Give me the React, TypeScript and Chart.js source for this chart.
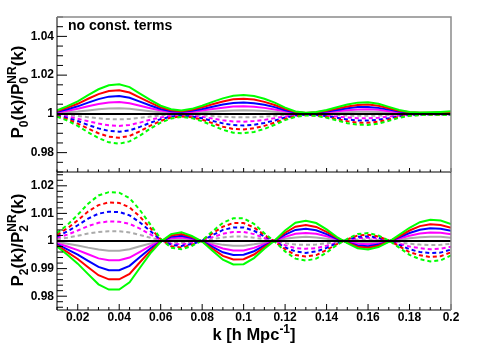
import React, { useEffect, useRef } from 'react';
import { Chart, registerables } from 'chart.js';

Chart.register(...registerables);

// ---------------- data ----------------
const kValues = [
  0.010, 0.015, 0.020, 0.025, 0.030, 0.035, 0.040, 0.045, 0.050, 0.055,
  0.060, 0.065, 0.070, 0.075, 0.080, 0.085, 0.090, 0.095, 0.100, 0.105,
  0.110, 0.115, 0.120, 0.125, 0.130, 0.135, 0.140, 0.145, 0.150, 0.155,
  0.160, 0.165, 0.170, 0.175, 0.180, 0.185, 0.190, 0.195, 0.200,
];

// Upper panel: P0(k)/P0NR(k), solid curves
const p0SolidGreen = [1.0018,1.0040,1.0065,1.0097,1.0127,1.0148,1.0153,1.0138,1.0105,1.0072,1.0042,1.0024,1.0018,1.0026,1.0042,1.0062,1.0080,1.0094,1.0098,1.0092,1.0078,1.0058,1.0032,1.0012,1.0006,1.0010,1.0020,1.0034,1.0048,1.0058,1.0060,1.0052,1.0036,1.0020,1.0010,1.0007,1.0008,1.0010,1.0013];
const p0SolidRed = [1.0014,1.0032,1.0052,1.0078,1.0102,1.0118,1.0122,1.0110,1.0084,1.0058,1.0034,1.0019,1.0014,1.0021,1.0034,1.0050,1.0064,1.0075,1.0078,1.0074,1.0062,1.0046,1.0026,1.0010,1.0005,1.0008,1.0016,1.0027,1.0038,1.0046,1.0048,1.0042,1.0029,1.0016,1.0008,1.0006,1.0006,1.0008,1.0010];
const p0SolidBlue = [1.0011,1.0024,1.0039,1.0058,1.0076,1.0089,1.0092,1.0083,1.0063,1.0043,1.0025,1.0014,1.0011,1.0016,1.0025,1.0037,1.0048,1.0056,1.0059,1.0055,1.0047,1.0035,1.0019,1.0007,1.0004,1.0006,1.0012,1.0020,1.0029,1.0035,1.0036,1.0031,1.0022,1.0012,1.0006,1.0004,1.0005,1.0006,1.0008];
const p0SolidMagenta = [1.0007,1.0016,1.0026,1.0039,1.0051,1.0059,1.0061,1.0055,1.0042,1.0029,1.0017,1.0010,1.0007,1.0010,1.0017,1.0025,1.0032,1.0038,1.0039,1.0037,1.0031,1.0023,1.0013,1.0005,1.0002,1.0004,1.0008,1.0014,1.0019,1.0023,1.0024,1.0021,1.0014,1.0008,1.0004,1.0003,1.0003,1.0004,1.0005];
const p0SolidGray = [1.0003,1.0008,1.0012,1.0018,1.0024,1.0028,1.0029,1.0026,1.0020,1.0014,1.0008,1.0005,1.0003,1.0005,1.0008,1.0012,1.0015,1.0018,1.0019,1.0017,1.0015,1.0011,1.0006,1.0002,1.0001,1.0002,1.0004,1.0006,1.0009,1.0011,1.0011,1.0010,1.0007,1.0004,1.0002,1.0001,1.0002,1.0002,1.0002];

// Upper panel: dashed curves
const p0DashedGreen = [0.9986,0.9965,0.9938,0.9905,0.9875,0.9853,0.9846,0.9858,0.9888,0.9924,0.9955,0.9976,0.9984,0.9978,0.9962,0.9940,0.9918,0.9903,0.9900,0.9907,0.9922,0.9944,0.9968,0.9985,0.9992,0.9990,0.9980,0.9966,0.9952,0.9944,0.9943,0.9950,0.9964,0.9980,0.9990,0.9994,0.9995,0.9995,0.9994];
const p0DashedRed = [0.9989,0.9972,0.9950,0.9924,0.9900,0.9882,0.9877,0.9886,0.9910,0.9939,0.9964,0.9981,0.9987,0.9982,0.9970,0.9952,0.9934,0.9922,0.9920,0.9926,0.9938,0.9955,0.9974,0.9988,0.9994,0.9992,0.9984,0.9973,0.9962,0.9955,0.9954,0.9960,0.9971,0.9984,0.9992,0.9995,0.9996,0.9996,0.9995];
const p0DashedBlue = [0.9992,0.9979,0.9963,0.9943,0.9925,0.9912,0.9908,0.9915,0.9933,0.9954,0.9973,0.9986,0.9990,0.9987,0.9977,0.9964,0.9951,0.9942,0.9940,0.9944,0.9953,0.9966,0.9981,0.9991,0.9995,0.9994,0.9988,0.9980,0.9971,0.9966,0.9966,0.9970,0.9978,0.9988,0.9994,0.9996,0.9997,0.9997,0.9996];
const p0DashedMagenta = [0.9994,0.9986,0.9975,0.9962,0.9950,0.9941,0.9938,0.9943,0.9955,0.9970,0.9982,0.9990,0.9994,0.9991,0.9985,0.9976,0.9967,0.9961,0.9960,0.9963,0.9969,0.9978,0.9987,0.9994,0.9997,0.9996,0.9992,0.9986,0.9981,0.9978,0.9977,0.9980,0.9986,0.9992,0.9996,0.9998,0.9998,0.9998,0.9998];
const p0DashedGray = [0.9997,0.9994,0.9989,0.9983,0.9977,0.9973,0.9972,0.9974,0.9980,0.9986,0.9992,0.9996,0.9997,0.9996,0.9993,0.9989,0.9985,0.9983,0.9982,0.9983,0.9986,0.9990,0.9994,0.9997,0.9999,0.9998,0.9996,0.9994,0.9991,0.9990,0.9990,0.9991,0.9994,0.9996,0.9998,0.9999,0.9999,0.9999,0.9999];

// Lower panel: P2(k)/P2NR(k), solid curves
const p2SolidGreen = [0.9980,0.9950,0.9918,0.9880,0.9843,0.9824,0.9824,0.9850,0.9903,0.9955,0.9997,1.0025,1.0032,1.0018,0.9998,0.9965,0.9932,0.9915,0.9916,0.9938,0.9972,1.0002,1.0038,1.0066,1.0073,1.0065,1.0042,1.0014,0.9992,0.9974,0.9969,0.9978,0.9997,1.0022,1.0048,1.0068,1.0077,1.0074,1.0061];
const p2SolidRed = [0.9984,0.9960,0.9935,0.9905,0.9876,0.9861,0.9861,0.9881,0.9923,0.9964,0.9998,1.0020,1.0025,1.0014,0.9998,0.9972,0.9946,0.9933,0.9934,0.9951,0.9978,1.0002,1.0030,1.0052,1.0058,1.0051,1.0033,1.0011,0.9994,0.9979,0.9976,0.9983,0.9998,1.0017,1.0038,1.0054,1.0061,1.0058,1.0048];
const p2SolidBlue = [0.9988,0.9970,0.9951,0.9928,0.9906,0.9894,0.9894,0.9910,0.9942,0.9973,0.9998,1.0015,1.0019,1.0011,0.9999,0.9979,0.9959,0.9949,0.9950,0.9963,0.9983,1.0001,1.0023,1.0040,1.0044,1.0039,1.0025,1.0008,0.9995,0.9984,0.9981,0.9987,0.9998,1.0013,1.0029,1.0041,1.0046,1.0044,1.0037];
const p2SolidMagenta = [0.9992,0.9980,0.9967,0.9952,0.9937,0.9930,0.9930,0.9940,0.9961,0.9982,0.9999,1.0010,1.0013,1.0007,0.9999,0.9986,0.9973,0.9966,0.9966,0.9975,0.9989,1.0001,1.0015,1.0026,1.0029,1.0026,1.0017,1.0006,0.9997,0.9990,0.9988,0.9991,0.9999,1.0009,1.0019,1.0027,1.0031,1.0030,1.0024];
const p2SolidGray = [0.9996,0.9990,0.9984,0.9976,0.9969,0.9965,0.9965,0.9970,0.9981,0.9991,0.9999,1.0005,1.0006,1.0004,1.0000,0.9993,0.9986,0.9983,0.9983,0.9988,0.9994,1.0000,1.0008,1.0013,1.0015,1.0013,1.0008,1.0003,0.9998,0.9995,0.9994,0.9996,0.9999,1.0004,1.0010,1.0014,1.0015,1.0015,1.0012];

// Lower panel: dashed curves
const p2DashedGreen = [1.0029,1.0058,1.0095,1.0135,1.0165,1.0177,1.0175,1.0155,1.0112,1.0060,1.0008,0.9976,0.9970,0.9982,1.0002,1.0035,1.0066,1.0082,1.0082,1.0062,1.0028,0.9998,0.9962,0.9936,0.9929,0.9936,0.9958,0.9986,1.0008,1.0025,1.0029,1.0020,1.0002,0.9976,0.9950,0.9934,0.9926,0.9930,0.9948];
const p2DashedRed = [1.0023,1.0046,1.0075,1.0107,1.0130,1.0140,1.0138,1.0122,1.0088,1.0047,1.0006,0.9981,0.9976,0.9986,1.0002,1.0028,1.0052,1.0065,1.0065,1.0049,1.0022,0.9998,0.9970,0.9949,0.9944,0.9949,0.9967,0.9989,1.0006,1.0020,1.0023,1.0016,1.0002,0.9981,0.9960,0.9948,0.9942,0.9945,0.9959];
const p2DashedBlue = [1.0017,1.0035,1.0057,1.0081,1.0099,1.0106,1.0105,1.0093,1.0067,1.0036,1.0005,0.9986,0.9982,0.9989,1.0001,1.0021,1.0040,1.0049,1.0049,1.0037,1.0017,0.9999,0.9977,0.9962,0.9957,0.9962,0.9975,0.9992,1.0005,1.0015,1.0017,1.0012,1.0001,0.9986,0.9970,0.9960,0.9956,0.9958,0.9969];
const p2DashedMagenta = [1.0012,1.0023,1.0038,1.0054,1.0066,1.0071,1.0070,1.0062,1.0045,1.0024,1.0003,0.9990,0.9988,0.9993,1.0001,1.0014,1.0026,1.0033,1.0033,1.0025,1.0011,0.9999,0.9985,0.9974,0.9972,0.9974,0.9983,0.9994,1.0003,1.0010,1.0012,1.0008,1.0001,0.9990,0.9980,0.9974,0.9970,0.9972,0.9979];
const p2DashedGray = [1.0006,1.0012,1.0019,1.0027,1.0033,1.0035,1.0035,1.0031,1.0022,1.0012,1.0002,0.9995,0.9994,0.9996,1.0000,1.0007,1.0013,1.0016,1.0016,1.0012,1.0006,1.0000,0.9992,0.9987,0.9986,0.9987,0.9992,0.9997,1.0002,1.0005,1.0006,1.0004,1.0000,0.9995,0.9990,0.9987,0.9985,0.9986,0.9990];

// reference line at ratio 1
const unityK = [0.01, 0.2];
const unityLine = [1, 1];

// axes
const X_MIN = 0.01;
const X_MAX = 0.2;
const xTickValues = [0.02, 0.04, 0.06, 0.08, 0.1, 0.12, 0.14, 0.16, 0.18, 0.2];
const xTickLabels = ['0.02', '0.04', '0.06', '0.08', '0.1', '0.12', '0.14', '0.16', '0.18', '0.2'];
const p0Min = 0.97;
const p0Max = 1.05;
const p0TickValues = [0.98, 1, 1.02, 1.04];
const p0TickLabels = ['0.98', '1', '1.02', '1.04'];
const p2Min = 0.975;
const p2Max = 1.025;
const p2TickValues = [0.98, 0.99, 1, 1.01, 1.02];
const p2TickLabels = ['0.98', '0.99', '1', '1.01', '1.02'];

const annotationText = 'no const. terms';

// ---------------- styling ----------------
const FAMILY = '"Liberation Sans", Arial, Helvetica, sans-serif';
const COLORS = ['#00ff00', '#ff0000', '#0000ff', '#ff00ff', '#aaaaaa'];
const DASH = [4, 3];

type Seg = { t: string; sub?: string; sup?: string };

const p0Title: Seg[] = [{ t: 'P', sub: '0' }, { t: '(k)/P', sub: '0', sup: 'NR' }, { t: '(k)' }];
const p2Title: Seg[] = [{ t: 'P', sub: '2' }, { t: '(k)/P', sub: '2', sup: 'NR' }, { t: '(k)' }];
const xTitle: Seg[] = [{ t: 'k [h Mpc', sup: '-1' }, { t: ']' }];

function drawRich(ctx: CanvasRenderingContext2D, segs: Seg[], size: number, x: number, y: number, angle: number) {
  const big = `bold ${size}px ${FAMILY}`;
  const small = `bold ${Math.round(size * 0.7)}px ${FAMILY}`;
  const widths = segs.map((s) => {
    ctx.font = big;
    const wt = ctx.measureText(s.t).width;
    ctx.font = small;
    const ws = Math.max(s.sub ? ctx.measureText(s.sub).width : 0, s.sup ? ctx.measureText(s.sup).width : 0);
    return { wt, ws };
  });
  const total = widths.reduce((a, w) => a + w.wt + w.ws, 0);
  ctx.save();
  ctx.translate(x, y);
  ctx.rotate(angle);
  ctx.fillStyle = '#000';
  ctx.textBaseline = 'alphabetic';
  ctx.textAlign = 'left';
  let cx = -total / 2;
  segs.forEach((s, i) => {
    ctx.font = big;
    ctx.fillText(s.t, cx, 0);
    cx += widths[i].wt;
    ctx.font = small;
    if (s.sub) ctx.fillText(s.sub, cx, size * 0.28);
    if (s.sup) ctx.fillText(s.sup, cx, -size * 0.42);
    cx += widths[i].ws;
  });
  ctx.restore();
}

function isMultiple(v: number, step: number) {
  const r = v / step;
  return Math.abs(r - Math.round(r)) < 1e-6;
}

type FrameCfg = {
  yStep: number;
  yMajor: number;
  yMajorLen: number;
  yMinorLen: number;
  xMajorLen: number;
  xMinorLen: number;
  drawTop: boolean;
};

function drawFrame(chart: Chart, cfg: FrameCfg) {
  const { ctx, chartArea: a } = chart;
  const xs = chart.scales.x;
  const ys = chart.scales.y;
  ctx.save();
  // left axis ticks
  ctx.strokeStyle = '#000';
  ctx.lineWidth = 1;
  ctx.beginPath();
  const y0 = Math.ceil((ys.min as number) / cfg.yStep - 1e-6);
  const y1 = Math.floor((ys.max as number) / cfg.yStep + 1e-6);
  for (let i = y0; i <= y1; i++) {
    const v = i * cfg.yStep;
    const py = ys.getPixelForValue(v);
    const len = isMultiple(v, cfg.yMajor) ? cfg.yMajorLen : cfg.yMinorLen;
    ctx.moveTo(a.left, py);
    ctx.lineTo(a.left + len, py);
  }
  // bottom axis ticks
  for (let i = 2; i <= 40; i++) {
    const v = i * 0.005;
    const px = xs.getPixelForValue(v);
    const len = isMultiple(v, 0.02) ? cfg.xMajorLen : cfg.xMinorLen;
    ctx.moveTo(px, a.bottom);
    ctx.lineTo(px, a.bottom - len);
  }
  ctx.stroke();
  // axis lines
  ctx.beginPath();
  ctx.moveTo(a.left, a.top);
  ctx.lineTo(a.left, a.bottom);
  ctx.lineTo(a.right, a.bottom);
  ctx.stroke();
  // pad border (top / right)
  ctx.strokeStyle = '#8a8a8a';
  ctx.lineWidth = 1.5;
  ctx.beginPath();
  if (cfg.drawTop) {
    ctx.moveTo(a.left, a.top);
    ctx.lineTo(a.right, a.top);
  } else {
    ctx.moveTo(a.right, a.top);
  }
  ctx.lineTo(a.right, a.bottom);
  ctx.stroke();
  ctx.restore();
}

function buildDatasets(solid: number[][], dashed: number[][]) {
  const toPts = (vals: number[]) => kValues.map((k, i) => ({ x: k, y: vals[i] }));
  const ds: any[] = [
    {
      data: unityK.map((k, i) => ({ x: k, y: unityLine[i] })),
      borderColor: '#000',
      borderWidth: 2,
      pointRadius: 0,
      tension: 0,
    },
  ];
  for (let c = 0; c < COLORS.length; c++) {
    ds.push({
      data: toPts(dashed[c]),
      borderColor: COLORS[c],
      borderWidth: 2,
      borderDash: DASH,
      pointRadius: 0,
      tension: 0,
    });
    ds.push({
      data: toPts(solid[c]),
      borderColor: COLORS[c],
      borderWidth: 2,
      pointRadius: 0,
      tension: 0,
    });
  }
  return ds;
}

const tickFont = { family: FAMILY, size: 12, weight: 'bold' as const };

function makeYScale(min: number, max: number, values: number[], labels: string[]) {
  return {
    type: 'linear' as const,
    min,
    max,
    grid: { display: false, drawTicks: false },
    border: { display: false },
    ticks: {
      color: '#000',
      font: tickFont,
      padding: 3,
      callback: (_v: any, idx: number) => labels[idx],
    },
    afterBuildTicks: (s: any) => {
      s.ticks = values.map((v) => ({ value: v }));
    },
    afterFit: (s: any) => {
      s.width = 57;
    },
  };
}

export default function App() {
  const upperRef = useRef<HTMLCanvasElement>(null);
  const lowerRef = useRef<HTMLCanvasElement>(null);

  useEffect(() => {
    const upper = new Chart(upperRef.current!, {
      type: 'line',
      data: {
        datasets: buildDatasets(
          [p0SolidGreen, p0SolidRed, p0SolidBlue, p0SolidMagenta, p0SolidGray],
          [p0DashedGreen, p0DashedRed, p0DashedBlue, p0DashedMagenta, p0DashedGray],
        ),
      },
      options: {
        animation: false,
        responsive: false,
        devicePixelRatio: 1,
        events: [],
        layout: { padding: { left: 0, right: 29, top: 17, bottom: 0 } },
        plugins: { legend: { display: false }, tooltip: { enabled: false } },
        scales: {
          x: {
            type: 'linear',
            min: X_MIN,
            max: X_MAX,
            grid: { display: false, drawTicks: false },
            border: { display: false },
            ticks: { display: false },
            afterFit: (s: any) => {
              s.height = 173;
            },
          },
          y: makeYScale(p0Min, p0Max, p0TickValues, p0TickLabels),
        },
      },
      plugins: [
        {
          id: 'upperDecor',
          afterDatasetsDraw: (chart: Chart) => {
            drawFrame(chart, { yStep: 0.005, yMajor: 0.02, yMajorLen: 10, yMinorLen: 6, xMajorLen: 4, xMinorLen: 2.5, drawTop: true });
          },
          afterDraw: (chart: Chart) => {
            const ctx = chart.ctx;
            ctx.save();
            ctx.fillStyle = '#000';
            ctx.font = `bold 14px ${FAMILY}`;
            ctx.textAlign = 'left';
            ctx.textBaseline = 'alphabetic';
            ctx.fillText(annotationText, 68, 30);
            ctx.restore();
            drawRich(ctx, p0Title, 17, 23, 92, -Math.PI / 2);
          },
        },
      ],
    } as any);

    const lower = new Chart(lowerRef.current!, {
      type: 'line',
      data: {
        datasets: buildDatasets(
          [p2SolidGreen, p2SolidRed, p2SolidBlue, p2SolidMagenta, p2SolidGray],
          [p2DashedGreen, p2DashedRed, p2DashedBlue, p2DashedMagenta, p2DashedGray],
        ),
      },
      options: {
        animation: false,
        responsive: false,
        devicePixelRatio: 1,
        events: [],
        layout: { padding: { left: 0, right: 29, top: 172, bottom: 0 } },
        plugins: { legend: { display: false }, tooltip: { enabled: false } },
        scales: {
          x: {
            type: 'linear',
            min: X_MIN,
            max: X_MAX,
            grid: { display: false, drawTicks: false },
            border: { display: false },
            ticks: {
              color: '#000',
              font: tickFont,
              padding: 0,
              maxRotation: 0,
              autoSkip: false,
              callback: (_v: any, idx: number) => xTickLabels[idx],
            },
            afterBuildTicks: (s: any) => {
              s.ticks = xTickValues.map((v) => ({ value: v }));
            },
            afterFit: (s: any) => {
              s.height = 35;
            },
          },
          y: makeYScale(p2Min, p2Max, p2TickValues, p2TickLabels),
        },
      },
      plugins: [
        {
          id: 'lowerDecor',
          afterDatasetsDraw: (chart: Chart) => {
            drawFrame(chart, { yStep: 0.002, yMajor: 0.01, yMajorLen: 10, yMinorLen: 6, xMajorLen: 6, xMinorLen: 3, drawTop: false });
          },
          afterDraw: (chart: Chart) => {
            const ctx = chart.ctx;
            drawRich(ctx, p2Title, 17, 23, 240, -Math.PI / 2);
            drawRich(ctx, xTitle, 16.5, 254, 339.5, 0);
          },
        },
      ],
    } as any);

    return () => {
      upper.destroy();
      lower.destroy();
    };
  }, []);

  const canvasStyle: React.CSSProperties = {
    position: 'absolute',
    left: 0,
    top: 0,
    width: 480,
    height: 345,
  };

  return (
    <div style={{ position: 'absolute', left: 0, top: 0, width: 480, height: 345, background: '#fff' }}>
      <canvas ref={lowerRef} width={480} height={345} style={canvasStyle} />
      <canvas ref={upperRef} width={480} height={345} style={canvasStyle} />
    </div>
  );
}
